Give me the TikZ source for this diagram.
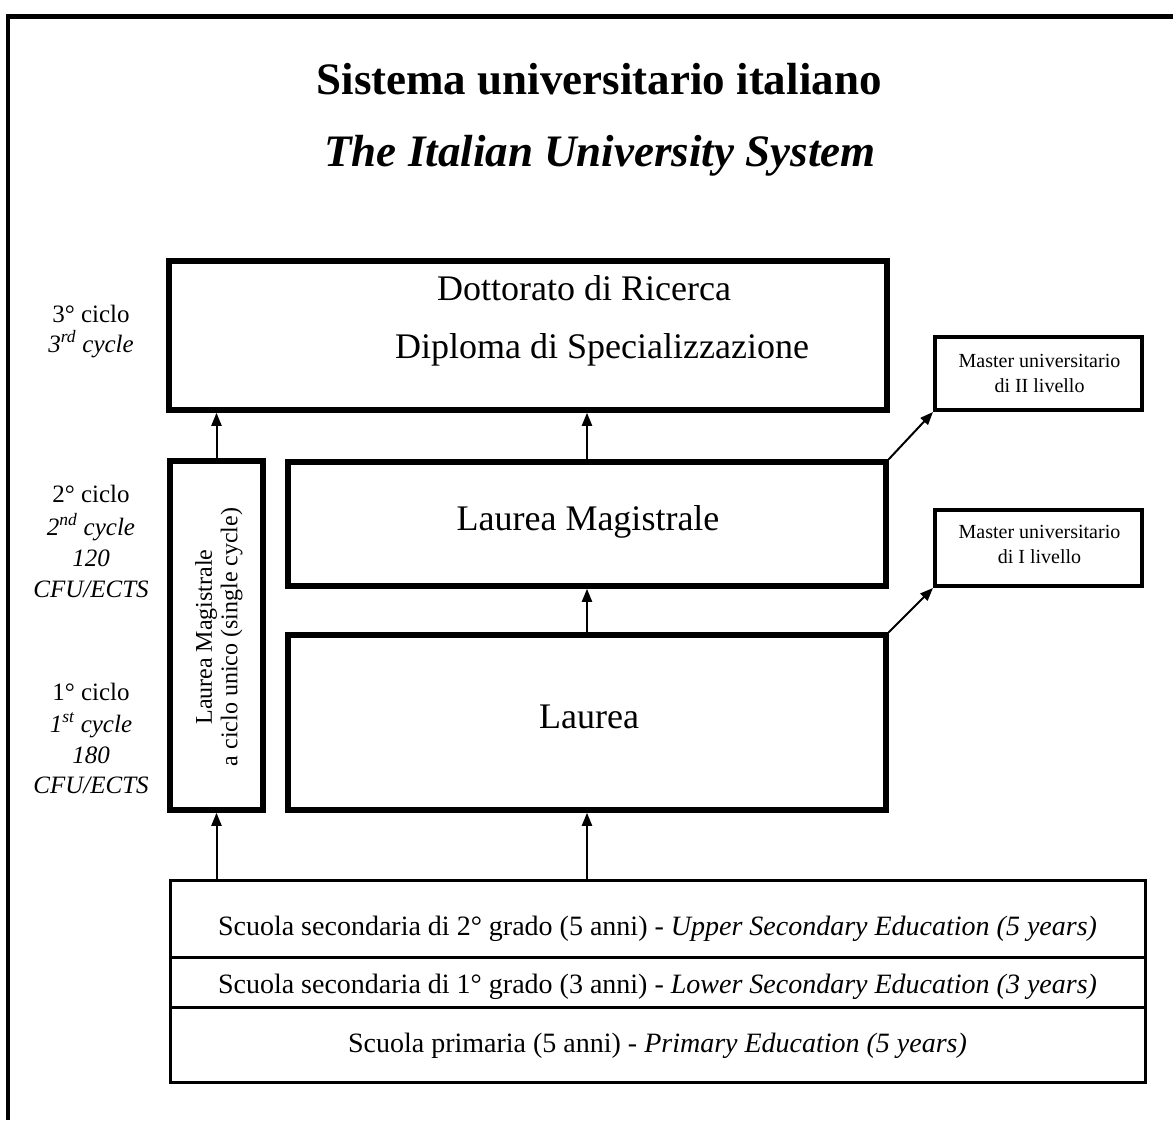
\documentclass[tikz,border=0pt]{standalone}
\usepackage{fontspec}
\setmainfont{Liberation Serif}
\usetikzlibrary{arrows.meta}
\begin{document}
\begin{tikzpicture}[x=1pt,y=-1pt,
  bigbox/.style={draw, line width=5.5pt, inner sep=0pt},
  mbox/.style={draw, line width=4pt, inner sep=0pt},
  rowbox/.style={draw, line width=3pt, inner sep=0pt},
  arr/.style={line width=2pt, -{Triangle[length=13pt,width=10pt]}},
  lbl/.style={anchor=base, inner sep=0pt},
  bigtxt/.style={lbl, font=\fontsize{36}{40}\selectfont},
  sidetxt/.style={lbl, font=\fontsize{25}{30}\selectfont},
  mtxt/.style={lbl, font=\fontsize{20}{24}\selectfont},
  rowtxt/.style={lbl, font=\fontsize{28}{32}\selectfont},
  titletxt/.style={lbl, font=\fontsize{45}{50}\selectfont\bfseries}]
\useasboundingbox (0,0) rectangle (1173,1120);
% outer frame (only top and left edges visible)
\draw[line width=4pt] (8,1120) -- (8,14);
\draw[line width=5pt] (6,16) -- (1173,16);

% titles
\node[titletxt] (t1) at (599,94) {Sistema universitario italiano};
\node[titletxt] (t2) at (600,166) {\itshape The Italian University System};

% boxes
\node[bigbox, minimum width=718, minimum height=149] (dott) at (528,335.5) {};
\node[bigbox, minimum width=93, minimum height=349] (lmsc) at (216.5,635.5) {};
\node[bigbox, minimum width=598, minimum height=124] (lm) at (587,524) {};
\node[bigbox, minimum width=598, minimum height=175] (laurea) at (587,722.5) {};
\node[mbox, minimum width=207, minimum height=73] (m2) at (1038.5,373.5) {};
\node[mbox, minimum width=207, minimum height=76] (m1) at (1038.5,548) {};
\node[rowbox, minimum width=975, minimum height=77] (row1) at (657.5,918.5) {};
\node[rowbox, minimum width=975, minimum height=50] (row2) at (657.5,982) {};
\node[rowbox, minimum width=975, minimum height=75] (row3) at (657.5,1044.5) {};

% box texts
\node[bigtxt] (dott1) at (584,300) {Dottorato di Ricerca};
\node[bigtxt] (dott2) at (602,358) {Diploma di Specializzazione};
\node[bigtxt] (lmt) at (588,530) {Laurea Magistrale};
\node[bigtxt] (laureat) at (589,728) {Laurea};
\node[mtxt] (m2a) at (1039.5,367) {Master universitario};
\node[mtxt] (m2b) at (1039.5,392) {di II livello};
\node[mtxt] (m1a) at (1039.5,538) {Master universitario};
\node[mtxt] (m1b) at (1039.5,563) {di I livello};
\node[rotate=90, align=center, inner sep=0pt, font=\fontsize{24}{25.5}\selectfont] (lmsct) at (219,637)
  {Laurea Magistrale\\a ciclo unico (single cycle)};
\node[rowtxt] (r1t) at (657.5,935) {Scuola secondaria di 2° grado (5 anni) - \textit{Upper Secondary Education (5 years)}};
\node[rowtxt] (r2t) at (657.5,993) {Scuola secondaria di 1° grado (3 anni) - \textit{Lower Secondary Education (3 years)}};
\node[rowtxt] (r3t) at (657.5,1052) {Scuola primaria (5 anni) - \textit{Primary Education (5 years)}};

% side labels
\node[sidetxt] (c3a) at (91,322) {3° ciclo};
\node[sidetxt] (c3b) at (91,352) {\textit{3\textsuperscript{rd} cycle}};
\node[sidetxt] (c2a) at (91,502) {2° ciclo};
\node[sidetxt] (c2b) at (91,535) {\textit{2\textsuperscript{nd} cycle}};
\node[sidetxt] (c2c) at (91,566) {\textit{120}};
\node[sidetxt] (c2d) at (91,597) {\textit{CFU/ECTS}};
\node[sidetxt] (c1a) at (91,700) {1° ciclo};
\node[sidetxt] (c1b) at (91,732) {\textit{1\textsuperscript{st} cycle}};
\node[sidetxt] (c1c) at (91,763) {\textit{180}};
\node[sidetxt] (c1d) at (91,793) {\textit{CFU/ECTS}};

% connectors
\draw[arr] (lmsc.south |- row1.north) -- (lmsc.south);
\draw[arr] (laurea.south |- row1.north) -- (laurea.south);
\draw[arr] (laurea.north) -- (lm.south);
\draw[arr] (lm.north) -- (lm.north |- dott.south);
\draw[arr] (lmsc.north) -- (lmsc.north |- dott.south);
\draw[arr] (lm.north east) -- (m2.south west);
\draw[arr] (laurea.north east) -- (m1.south west);
\end{tikzpicture}
\end{document}
